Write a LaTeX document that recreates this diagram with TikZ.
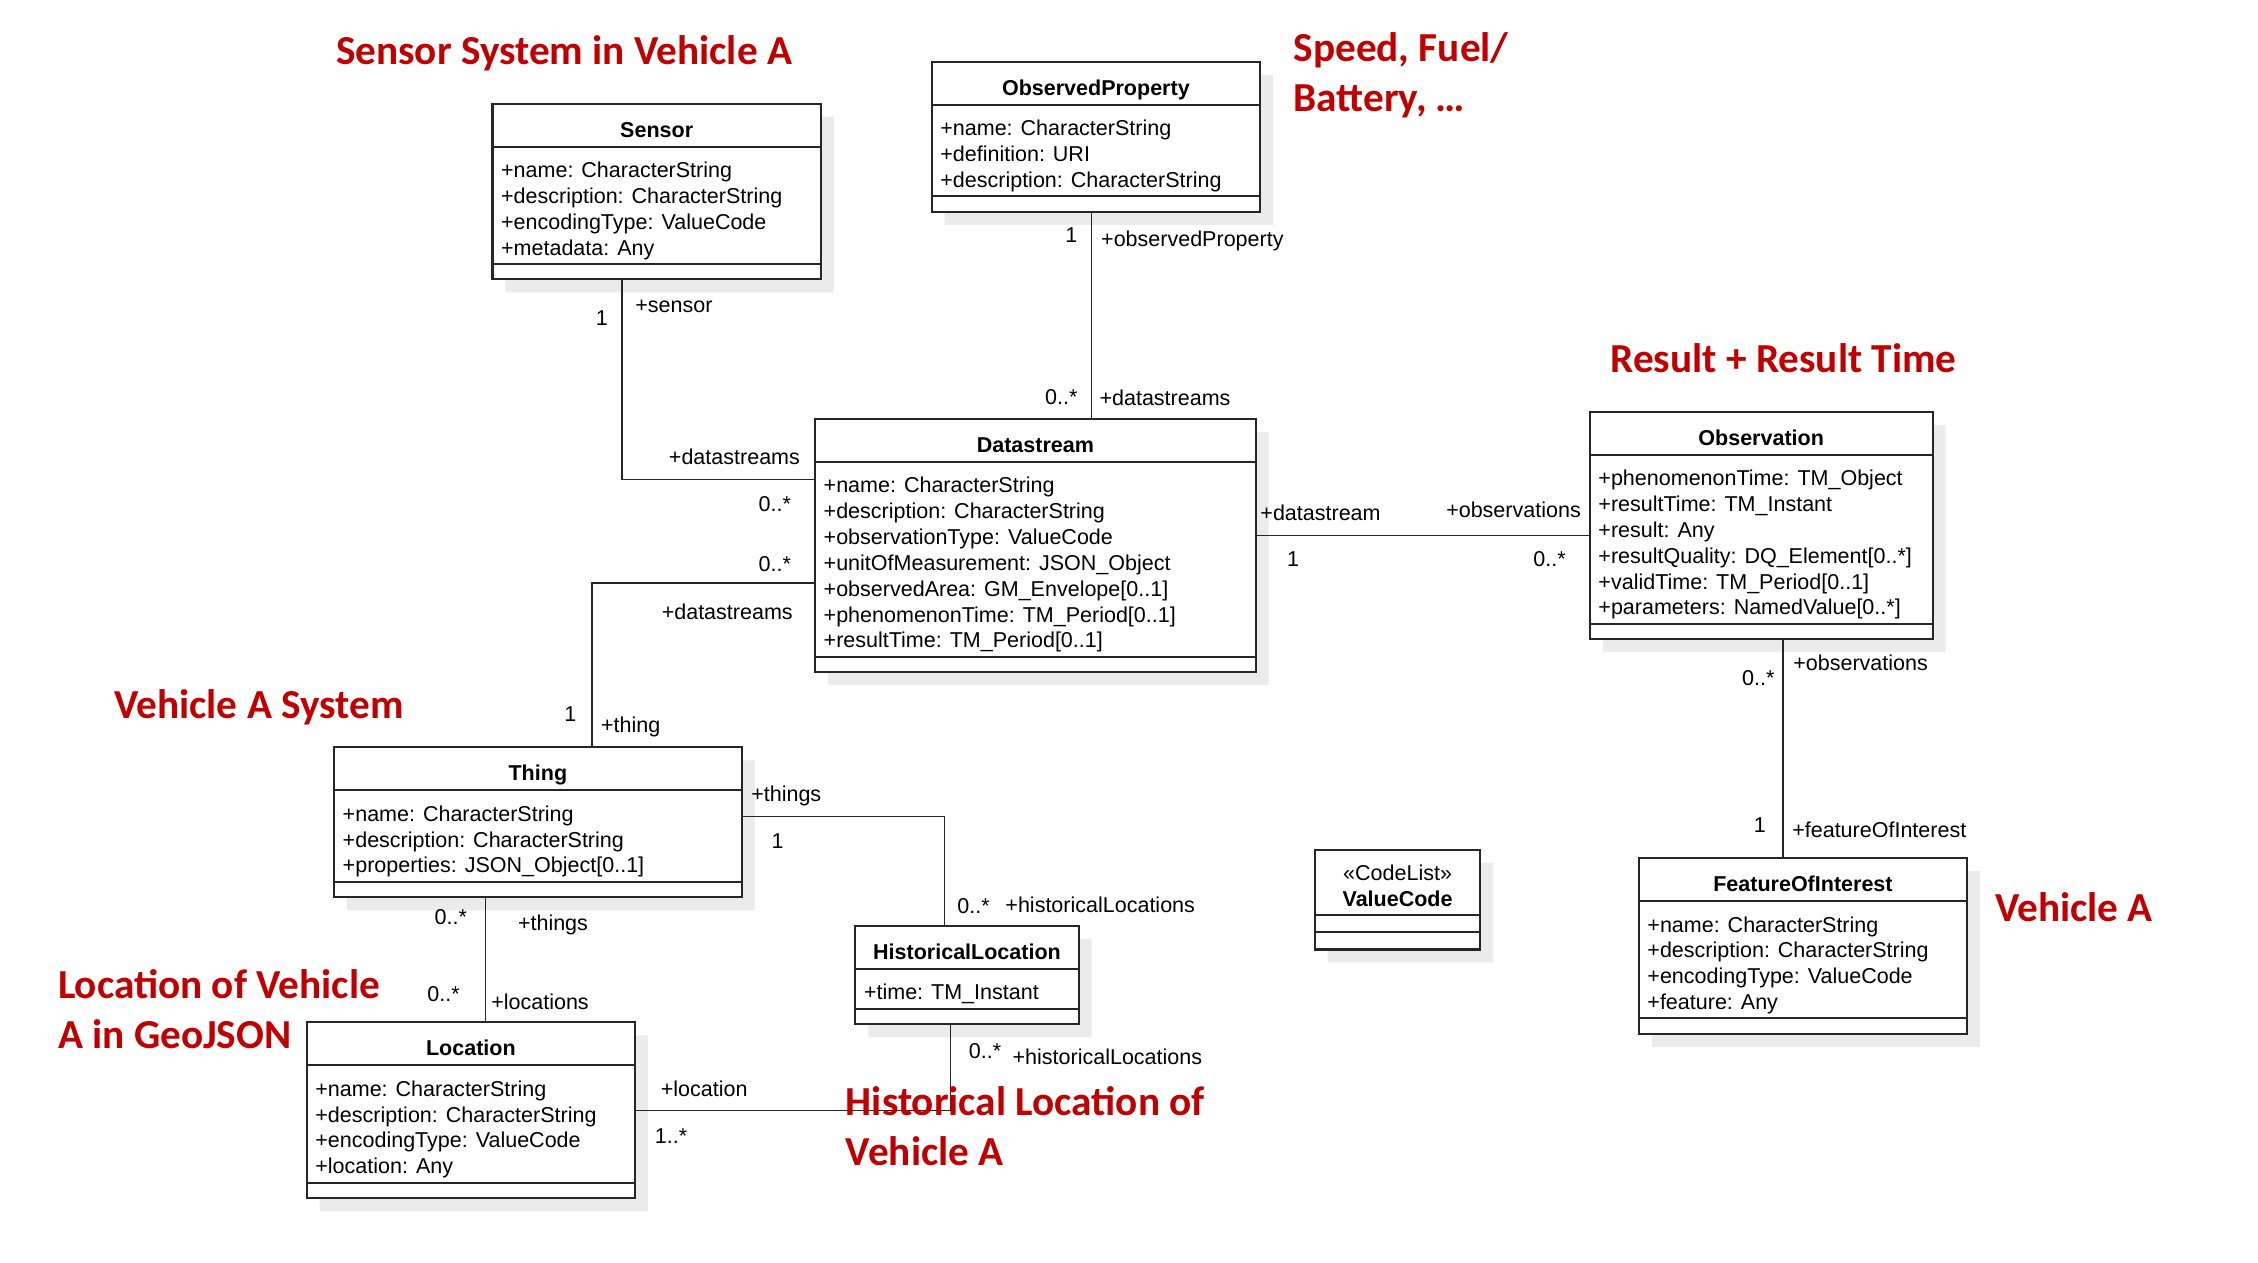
\documentclass[tikz,border=0pt]{standalone}
\usepackage{fontspec}
\setmainfont{Liberation Sans}
\newfontfamily\notefont{Carlito}
\usepackage{tikz}
\usetikzlibrary{shapes.multipart,shadows}

\definecolor{notered}{RGB}{192,0,0}
\newcommand{\umltitle}[1]{\textbf{#1}\rule[-3.4pt]{0pt}{16.2pt}}
\newcommand{\umllines}[2][l]{\begin{tabular}{@{}#1@{}}\rule{0pt}{11.8pt}#2\end{tabular}}

\begin{document}
\begin{tikzpicture}[x=0.2mm,y=-0.2mm,
  umlclass/.style={draw=black!85,line width=0.8pt,fill=white,
    rectangle split,rectangle split parts=3,
    rectangle split part align={center,left,left},
    rectangle split empty part height=5.4pt,rectangle split empty part depth=0pt,
    anchor=north west,inner xsep=1.2mm,inner ysep=0pt,outer sep=0pt,
    font=\fontsize{8.5}{10.2}\selectfont,
    drop shadow={shadow xshift=1.8mm,shadow yshift=-1.8mm,fill=black!8,opacity=1}},
  role/.style={font=\fontsize{8.5}{10.2}\selectfont,inner sep=0pt},
  note/.style={font=\notefont\bfseries\fontsize{16.3}{19.8}\selectfont,
    text=notered,align=left,anchor=west,inner sep=0pt},
  assoc/.style={draw=black!85,line width=0.6pt}]

\useasboundingbox (0,0) rectangle (1568,877);

% classes
\node[umlclass,minimum width=45.6mm] (sensor) at (342,72)
  {\umltitle{Sensor}
   \nodepart{two}\umllines{+name: CharacterString\\+description: CharacterString\\
   +encodingType: ValueCode\\+metadata: Any}
   \nodepart{three}};

\node[umlclass,minimum width=45.6mm] (property) at (647,43)
  {\umltitle{ObservedProperty}
   \nodepart{two}\umllines{+name: CharacterString\\+definition: URI\\
   +description: CharacterString}
   \nodepart{three}};

\node[umlclass,minimum width=61.2mm] (datastream) at (566,291)
  {\umltitle{Datastream}
   \nodepart{two}\umllines{+name: CharacterString\\+description: CharacterString\\
   +observationType: ValueCode\\+unitOfMeasurement: JSON\_Object\\
   +observedArea: GM\_Envelope[0..1]\\+phenomenonTime: TM\_Period[0..1]\\
   +resultTime: TM\_Period[0..1]}
   \nodepart{three}};

\node[umlclass,minimum width=47.6mm] (observation) at (1104,286)
  {\umltitle{Observation}
   \nodepart{two}\umllines{+phenomenonTime: TM\_Object\\+resultTime: TM\_Instant\\
   +result: Any\\+resultQuality: DQ\_Element[0..*]\\+validTime: TM\_Period[0..1]\\
   +parameters: NamedValue[0..*]}
   \nodepart{three}};

\node[umlclass,minimum width=56.6mm] (thing) at (232,519)
  {\umltitle{Thing}
   \nodepart{two}\umllines{+name: CharacterString\\+description: CharacterString\\
   +properties: JSON\_Object[0..1]}
   \nodepart{three}};

\node[umlclass,minimum width=31mm] (histloc) at (594,643)
  {\umltitle{HistoricalLocation}
   \nodepart{two}\umllines{+time: TM\_Instant}
   \nodepart{three}};

\node[umlclass,minimum width=45.6mm] (location) at (213,710)
  {\umltitle{Location}
   \nodepart{two}\umllines{+name: CharacterString\\+description: CharacterString\\
   +encodingType: ValueCode\\+location: Any}
   \nodepart{three}};

\node[umlclass,minimum width=23mm,rectangle split empty part height=6pt] (valuecode) at (913,590)
  {\umllines[c]{«CodeList»\\\textbf{ValueCode}}
   \nodepart{two}
   \nodepart{three}};

\node[umlclass,minimum width=45.6mm] (feature) at (1138,596)
  {\umltitle{FeatureOfInterest}
   \nodepart{two}\umllines{+name: CharacterString\\+description: CharacterString\\
   +encodingType: ValueCode\\+feature: Any}
   \nodepart{three}};

% associations
\coordinate (sbend) at (432,333);
\coordinate (pline) at (758,200);
\coordinate (tbend) at (411,405);
\coordinate (oline) at (990,372);
\coordinate (fline) at (1238,520);
\coordinate (hbend) at (656,567);
\coordinate (lline) at (337,660);
\coordinate (lbend) at (660,771);

\draw[assoc] (sensor.south -| sbend) |- (datastream.west |- sbend);
\draw[assoc] (property.south -| pline) -- (datastream.north -| pline);
\draw[assoc] (thing.north -| tbend) |- (datastream.west |- tbend);
\draw[assoc] (datastream.east |- oline) -- (observation.west |- oline);
\draw[assoc] (observation.south -| fline) -- (feature.north -| fline);
\draw[assoc] (thing.east |- hbend) -| (histloc.north -| hbend);
\draw[assoc] (thing.south -| lline) -- (location.north -| lline);
\draw[assoc] (location.east |- lbend) -| (histloc.south -| lbend);

% roles and multiplicities
\node[role] (sone) at (418,221) {1};
\node[role] (srole) at (468,213) {+sensor};
\node[role] (sdrole) at (510,317) {+datastreams};
\node[role] (sdmult) at (538,350) {0..*};

\node[role] (pone) at (744,163) {1};
\node[role] (prole) at (828,167) {+observedProperty};
\node[role] (pdmult) at (737,276) {0..*};
\node[role] (pdrole) at (809,276) {+datastreams};

\node[role] (tdmult) at (538,392) {0..*};
\node[role] (tdrole) at (505,425) {+datastreams};
\node[role] (tone) at (396,496) {1};
\node[role] (trole) at (438,505) {+thing};

\node[role] (odrole) at (917,356) {+datastream};
\node[role] (odone) at (898,388) {1};
\node[role] (oorole) at (1051,354) {+observations};
\node[role] (oomult) at (1076,388) {0..*};

\node[role] (fomult) at (1221,471) {0..*};
\node[role] (forole) at (1292,460) {+observations};
\node[role] (fone) at (1222,573) {1};
\node[role] (frole) at (1305,576) {+featureOfInterest};

\node[role] (htrole) at (546,553) {+things};
\node[role] (htone) at (540,584) {1};
\node[role] (hhmult) at (676,629) {0..*};
\node[role] (hhrole) at (764,628) {+historicalLocations};

\node[role] (ltmult) at (313,637) {0..*};
\node[role] (ltrole) at (384,642) {+things};
\node[role] (llmult) at (308,690) {0..*};
\node[role] (llrole) at (375,696) {+locations};

\node[role] (hlrole) at (489,756) {+location};
\node[role] (hlmult) at (466,789) {1..*};
\node[role] (hhmult2) at (684,730) {0..*};
\node[role] (hhrole2) at (769,734) {+historicalLocations};

% notes
\node[note] (sensornote) at (233,37) {Sensor System in Vehicle A};
\node[note] (propnote) at (898,52) {Speed, Fuel/\\Battery, …};
\node[note] (resultnote) at (1118,249) {Result + Result Time};
\node[note] (thingnote) at (79,491) {Vehicle A System};
\node[note] (locnote) at (40,701) {Location of Vehicle\\A in GeoJSON};
\node[note] (histnote) at (587,782) {Historical Location of\\Vehicle A};
\node[note] (featnote) at (1385,630) {Vehicle A};

\end{tikzpicture}
\end{document}
